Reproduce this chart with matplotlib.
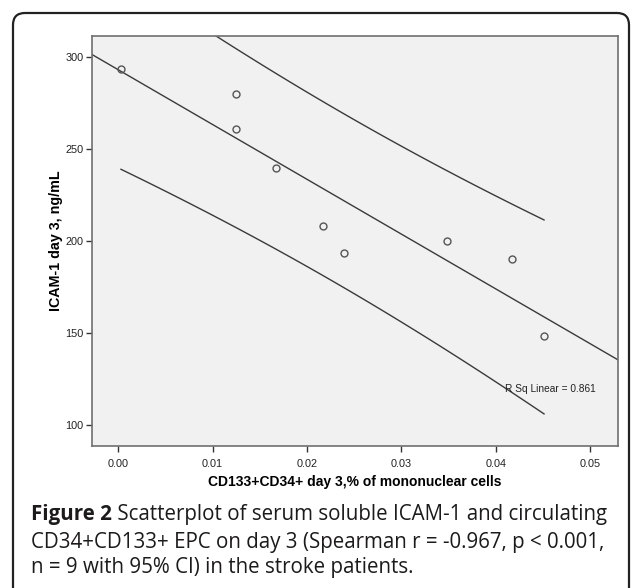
"""
Scatterplot of ICAM-1 vs CD133+CD34+ EPC on day 3, with linear fit and 95% CI
"""

import numpy as np
import matplotlib
matplotlib.use('Agg')
import matplotlib.pyplot as plt
from matplotlib.patches import FancyBboxPatch
from matplotlib.transforms import IdentityTransform

# ---------------------------------------------------------------------------- #
# Data
# ---------------------------------------------------------------------------- #
epc_day3 = [0.0003, 0.0125, 0.0125, 0.0167, 0.0217, 0.0239, 0.0348, 0.0417, 0.0451]
icam_day3 = [293.2, 280.1, 260.6, 239.7, 208.2, 193.6, 200.2, 190.3, 148.5]

x_ticks = [0.00, 0.01, 0.02, 0.03, 0.04, 0.05]
y_ticks = [100, 150, 200, 250, 300]
x_lims = [-0.0028, 0.0529]
y_lims = [88.8, 311.4]

rsq_label = 'R Sq Linear = 0.861'
x_label = 'CD133+CD34+ day 3,% of mononuclear cells'
y_label = 'ICAM-1 day 3, ng/mL'
caption_bold = 'Figure 2'
caption_lines = [' Scatterplot of serum soluble ICAM-1 and circulating',
                 'CD34+CD133+ EPC on day 3 (Spearman r = -0.967, p < 0.001,',
                 'n = 9 with 95% CI) in the stroke patients.']

# ---------------------------------------------------------------------------- #
# Fit and individual 95% prediction interval
# ---------------------------------------------------------------------------- #
x = np.array(epc_day3)
y = np.array(icam_day3)
n = len(x)
slope, intercept = np.polyfit(x, y, 1)
resid = y - (intercept + slope * x)
s = np.sqrt(np.sum(resid**2) / (n - 2))
t_crit = 2.3646  # t(0.975, df=7)
sxx = np.sum((x - x.mean())**2)

x_fit = np.array(x_lims)
x_ci = np.linspace(x.min(), x.max(), 100)
half = t_crit * s * np.sqrt(1 + 1/n + (x_ci - x.mean())**2 / sxx)
y_ci = intercept + slope * x_ci

# ---------------------------------------------------------------------------- #
# Plot
# ---------------------------------------------------------------------------- #
W, H = 632, 588
fig = plt.figure(figsize=(W/100, H/100), dpi=100)
ax = fig.add_axes([91.7/W, 1 - 445.5/H, (617.7 - 91.7)/W, (445.5 - 36)/H])

ax.set_facecolor('#F0F1F0')
for side in ax.spines.values():
    side.set_color('#707070')
    side.set_linewidth(1.2)

line_col = '#3a3a3a'
ax.plot(x_fit, intercept + slope * x_fit, color=line_col, lw=1.0)
ax.plot(x_ci, y_ci + half, color=line_col, lw=1.0)
ax.plot(x_ci, y_ci - half, color=line_col, lw=1.0)
ax.plot(x, y, linestyle='none', marker='o', markersize=5,
        markerfacecolor='none', markeredgecolor='#555555', markeredgewidth=1.0)

ax.text(0.0410, 119.4, rsq_label, fontsize=7.3,
        family='Liberation Sans', color='#222222', va='center', ha='left')

ax.set_xlim(x_lims)
ax.set_ylim(y_lims)
ax.set_xticks(x_ticks)
ax.set_xticklabels([f'{v:.2f}' for v in x_ticks])
ax.set_yticks(y_ticks)
ax.tick_params(direction='out', length=4, width=1.0, color='#333333',
               labelsize=7.8, labelcolor='#222222', pad=2)
for lab in ax.get_xticklabels() + ax.get_yticklabels():
    lab.set_family('Liberation Sans')
ax.tick_params(axis='x', pad=6)

ax.set_xlabel(x_label, fontsize=10, fontweight='bold', family='Liberation Sans',
              labelpad=4)
ax.set_ylabel(y_label, fontsize=10.3, fontweight='bold', family='Liberation Sans',
              labelpad=1.5)

# Rounded frame round the figure, open at the bottom
frame = FancyBboxPatch((13, -40), 616, 575 + 40, boxstyle='round,pad=0,rounding_size=12',
                       transform=IdentityTransform(), facecolor='none',
                       edgecolor='#222222', linewidth=1.6)
fig.patches.append(frame)

# Caption
cap_kw = dict(family='Open Sans', fontsize=14.8, color='#1c1a1b', va='baseline', ha='left')
baselines = [520, 547.7, 573.3]
t0 = fig.text(31/W, 1 - baselines[0]/H, caption_bold, fontweight='bold', **cap_kw)
fig.canvas.draw()
bb = t0.get_window_extent()
fig.text(bb.x1/W, 1 - baselines[0]/H, caption_lines[0], **cap_kw)
for line, yb in zip(caption_lines[1:], baselines[1:]):
    fig.text(31/W, 1 - yb/H, line, **cap_kw)

fig.savefig('out.png', dpi=100)
plt.close()
